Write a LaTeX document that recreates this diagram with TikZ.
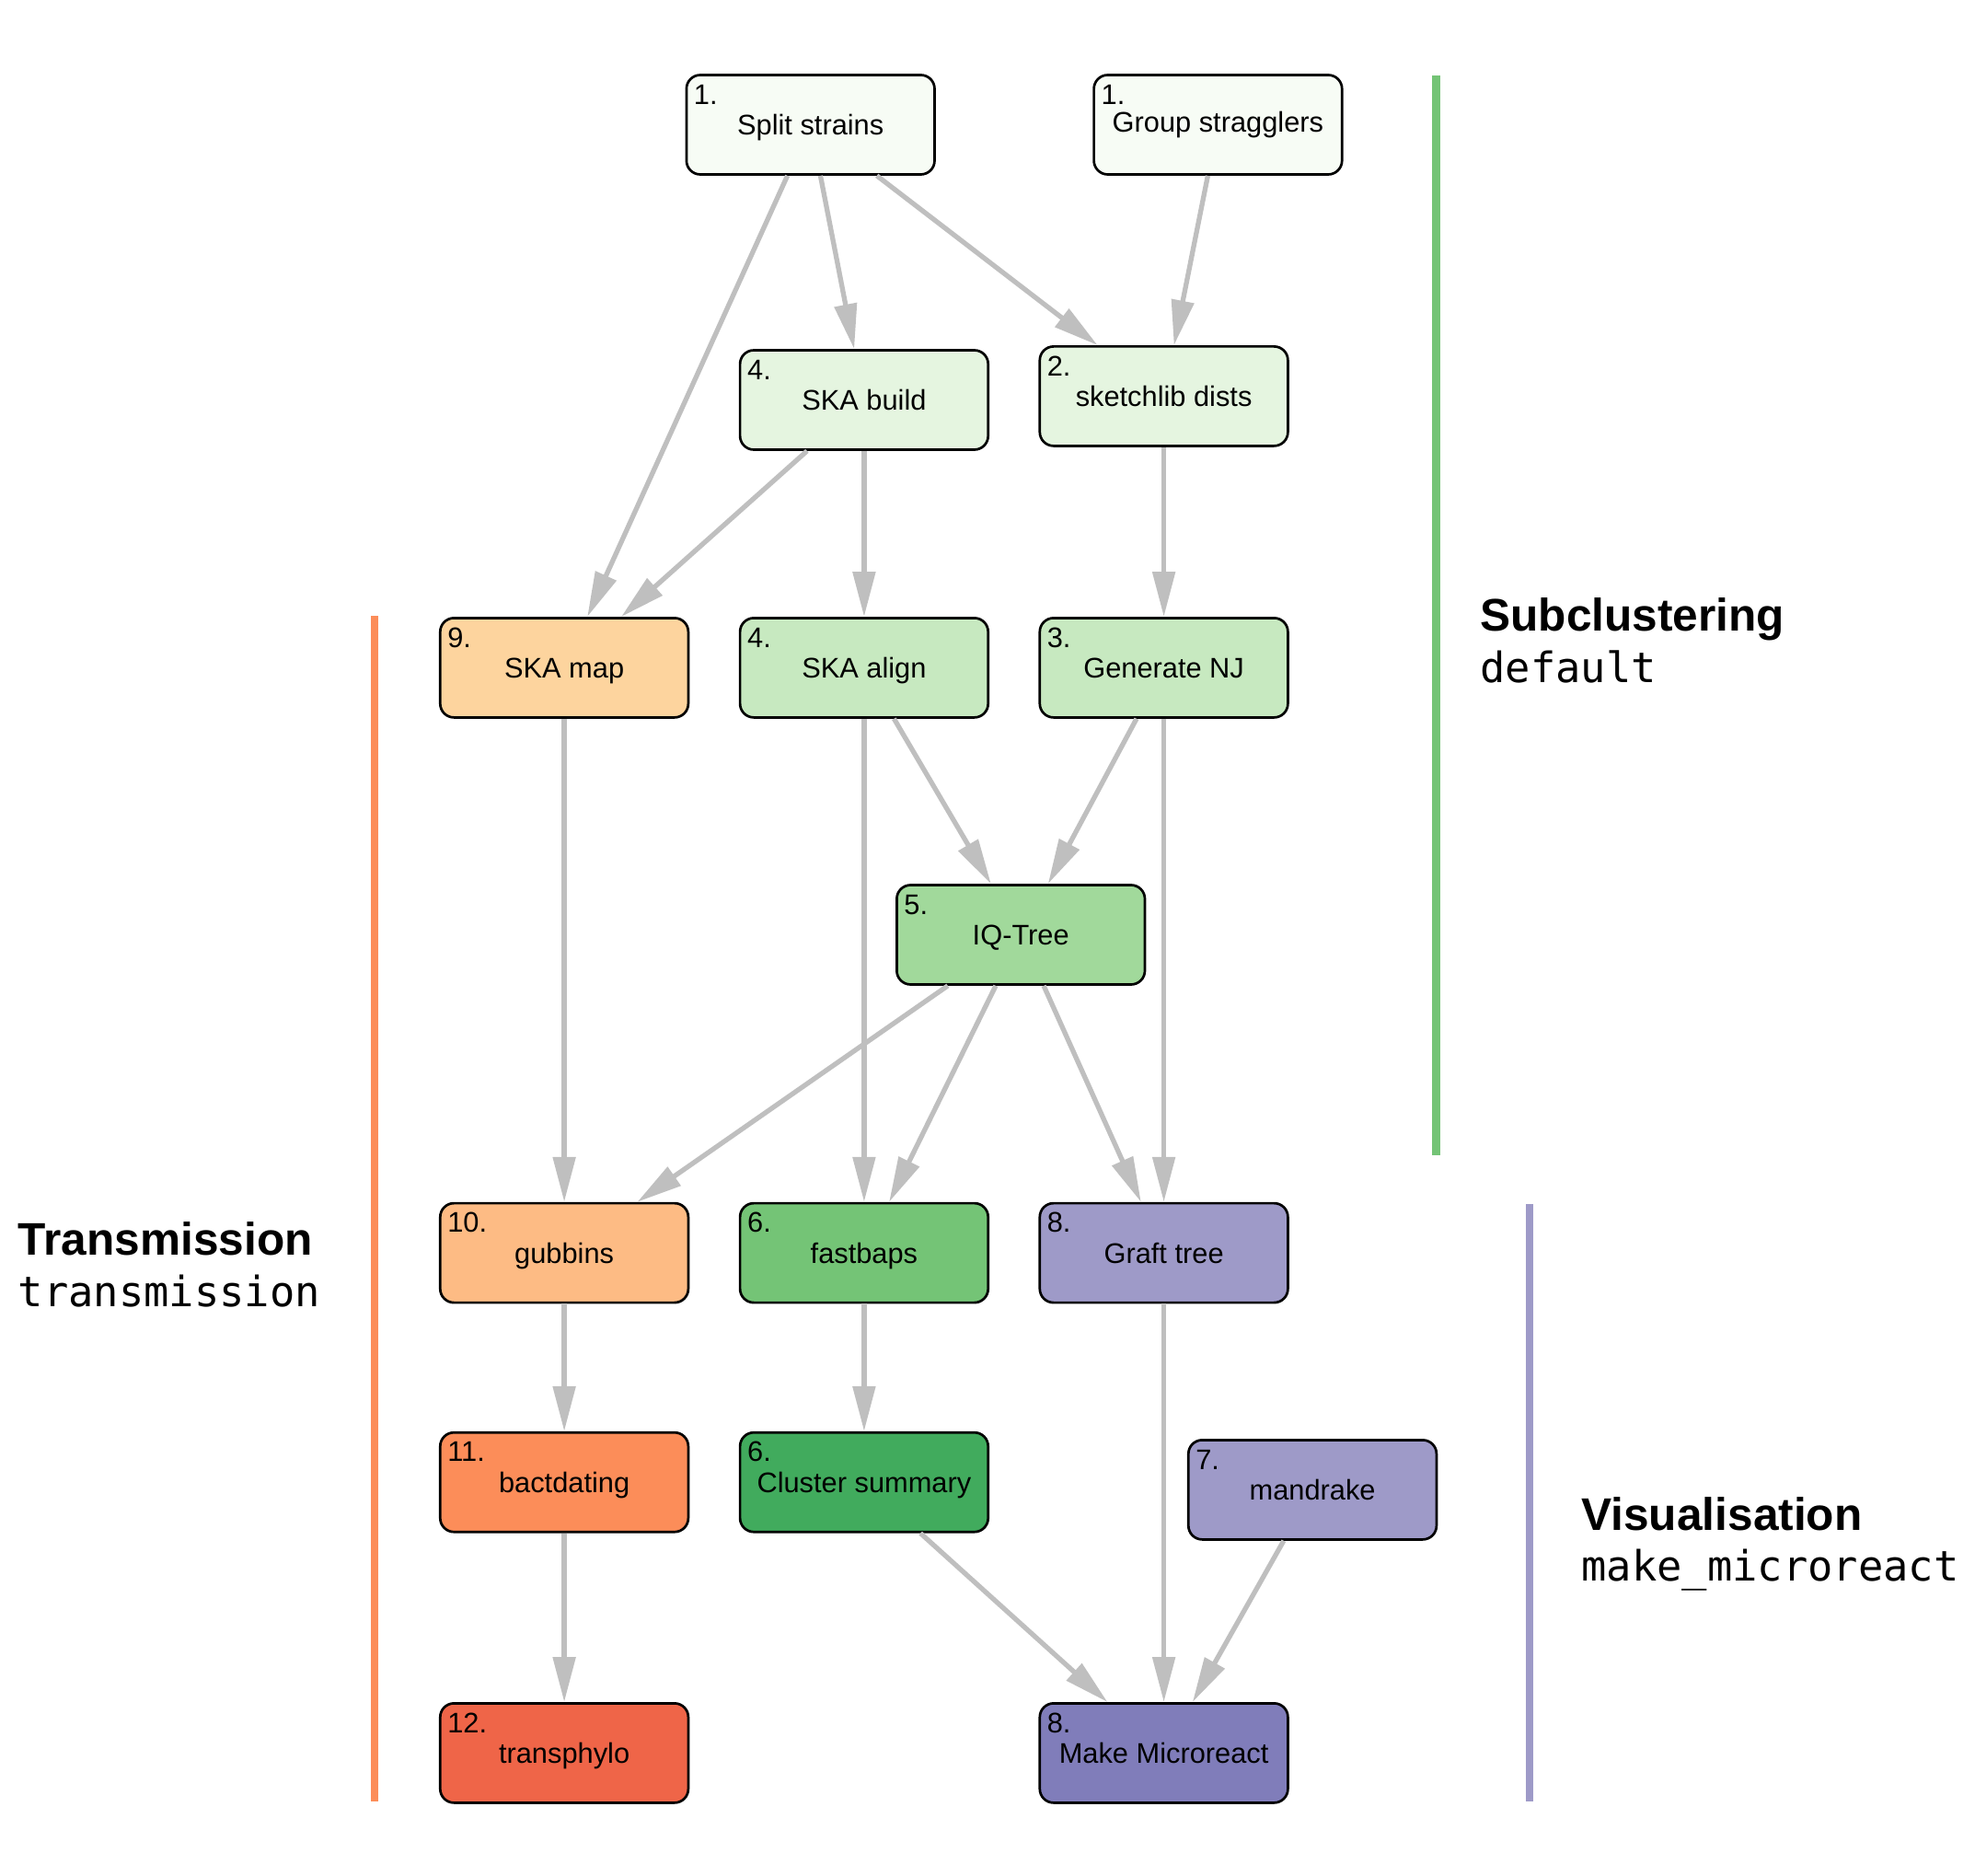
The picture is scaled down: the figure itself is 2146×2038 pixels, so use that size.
\documentclass[tikz,border=0pt]{standalone}
\usepackage{fontspec}
\setmainfont{Liberation Sans}
\setmonofont{DejaVu Sans Mono}
\usetikzlibrary{arrows.meta,calc}
\definecolor{gA}{HTML}{F7FCF5}
\definecolor{gB}{HTML}{E5F5E0}
\definecolor{gC}{HTML}{C7E9C0}
\definecolor{gD}{HTML}{A1D99B}
\definecolor{gE}{HTML}{74C476}
\definecolor{gF}{HTML}{41AB5D}
\definecolor{oA}{HTML}{FDD49E}
\definecolor{oB}{HTML}{FDBB84}
\definecolor{oC}{HTML}{FC8D59}
\definecolor{oD}{HTML}{EF6548}
\definecolor{pA}{HTML}{9E9AC8}
\definecolor{pB}{HTML}{807DBA}
\definecolor{edgegray}{HTML}{BFBFBF}
\tikzset{
  stepbox/.style={draw=black, line width=1.35pt, rounded corners=7.5pt,
    minimum width=134.8pt, minimum height=54pt, inner sep=0pt,
    text height=11pt, text depth=0pt,
    font=\fontsize{15.4pt}{18pt}\selectfont},
  numlbl/.style={inner sep=0pt, anchor=base west,
    font=\fontsize{15.4pt}{18pt}\selectfont},
  edge/.style={draw=edgegray, line width=2.65pt,
    -{Triangle[length=24.5pt,width=12pt]}},
  grouptitle/.style={inner sep=0pt, anchor=base west,
    font=\fontsize{24.8pt}{28pt}\selectfont\bfseries},
  groupcode/.style={inner sep=0pt, anchor=base west,
    font=\fontsize{22.7pt}{26pt}\selectfont\ttfamily},
  bar/.style={line width=4.3pt}
}
\begin{document}
\begin{tikzpicture}[x=0.5pt,y=-0.5pt]
\useasboundingbox (0,0) rectangle (2146,2038);

% nodes
\node[stepbox, fill=gA] (split) at (880.7,135.5) {Split strains};
\node[stepbox, fill=gA] (group) at (1323.4,135.5) {\raisebox{1.5pt}{Group stragglers}};
\node[stepbox, fill=gB] (skabuild) at (938.9,434.5) {SKA build};
\node[stepbox, fill=gB] (sketch) at (1264.6,430.4) {sketchlib dists};
\node[stepbox, fill=oA] (skamap) at (613.1,725.4) {SKA map};
\node[stepbox, fill=gC] (skaalign) at (938.9,725.4) {SKA align};
\node[stepbox, fill=gC] (nj) at (1264.6,725.4) {Generate NJ};
\node[stepbox, fill=gD] (iqtree) at (1109.2,1015.5) {IQ-Tree};
\node[stepbox, fill=oB] (gubbins) at (613.1,1361.1) {gubbins};
\node[stepbox, fill=gE] (fastbaps) at (938.9,1361.1) {fastbaps};
\node[stepbox, fill=pA] (graft) at (1264.6,1361.1) {Graft tree};
\node[stepbox, fill=oC] (bactdating) at (613.1,1610.2) {bactdating};
\node[stepbox, fill=gF] (summary) at (938.9,1610.2) {Cluster summary};
\node[stepbox, fill=pA] (mandrake) at (1426.1,1618.4) {mandrake};
\node[stepbox, fill=oD] (transphylo) at (613.1,1904.4) {transphylo};
\node[stepbox, fill=pB] (micro) at (1264.6,1904.4) {Make Microreact};

% step numbers
\node[numlbl] (splitn) at ($(split.north west)+(4.5pt,-16.5pt)$) {1.};
\node[numlbl] (groupn) at ($(group.north west)+(4.5pt,-16.5pt)$) {1.};
\node[numlbl] (skabuildn) at ($(skabuild.north west)+(4.5pt,-16.5pt)$) {4.};
\node[numlbl] (sketchn) at ($(sketch.north west)+(4.5pt,-16.5pt)$) {2.};
\node[numlbl] (skamapn) at ($(skamap.north west)+(4.5pt,-16.5pt)$) {9.};
\node[numlbl] (skaalignn) at ($(skaalign.north west)+(4.5pt,-16.5pt)$) {4.};
\node[numlbl] (njn) at ($(nj.north west)+(4.5pt,-16.5pt)$) {3.};
\node[numlbl] (iqtreen) at ($(iqtree.north west)+(4.5pt,-16.5pt)$) {5.};
\node[numlbl] (gubbinsn) at ($(gubbins.north west)+(4.5pt,-16.5pt)$) {10.};
\node[numlbl] (fastbapsn) at ($(fastbaps.north west)+(4.5pt,-16.5pt)$) {6.};
\node[numlbl] (graftn) at ($(graft.north west)+(4.5pt,-16.5pt)$) {8.};
\node[numlbl] (bactdatingn) at ($(bactdating.north west)+(4.5pt,-16.5pt)$) {11.};
\node[numlbl] (summaryn) at ($(summary.north west)+(4.5pt,-16.5pt)$) {6.};
\node[numlbl] (mandraken) at ($(mandrake.north west)+(4.5pt,-16.5pt)$) {7.};
\node[numlbl] (transphylon) at ($(transphylo.north west)+(4.5pt,-16.5pt)$) {12.};
\node[numlbl] (micron) at ($(micro.north west)+(4.5pt,-16.5pt)$) {8.};

% edges
\draw[edge] (split) -- (skamap);
\draw[edge] (split) -- (skabuild);
\draw[edge] (split) -- (sketch);
\draw[edge] (group) -- (sketch);
\draw[edge] (skabuild) -- (skamap);
\draw[edge] (skabuild) -- (skaalign);
\draw[edge] (sketch) -- (nj);
\draw[edge] (skamap) -- (gubbins);
\draw[edge] (skaalign) -- (fastbaps);
\draw[edge] (skaalign) -- (iqtree);
\draw[edge] (nj) -- (iqtree);
\draw[edge] (nj) -- (graft);
\draw[edge] (iqtree) -- (gubbins);
\draw[edge] (iqtree) -- (fastbaps);
\draw[edge] (iqtree) -- (graft);
\draw[edge] (gubbins) -- (bactdating);
\draw[edge] (fastbaps) -- (summary);
\draw[edge] (bactdating) -- (transphylo);
\draw[edge] (summary) -- (micro);
\draw[edge] (graft) -- (micro);
\draw[edge] (mandrake) -- (micro);

% group bars
\draw[bar, draw=gE] (1560.5,82) -- (1560.5,1255);
\draw[bar, draw=oC] (407,669.3) -- (407,1957);
\draw[bar, draw=pA] (1662,1308.3) -- (1662,1957);

% group titles
\node[grouptitle] (subt) at (1608,685.7) {Subclustering};
\node[groupcode] (subc) at (1608,741.7) {default};
\node[grouptitle] (trat) at (19.5,1363) {Transmission};
\node[groupcode] (trac) at (19.5,1419) {transmission};
\node[grouptitle] (vist) at (1718,1662) {Visualisation};
\node[groupcode] (visc) at (1718,1717) {make\_microreact};
\end{tikzpicture}
\end{document}
